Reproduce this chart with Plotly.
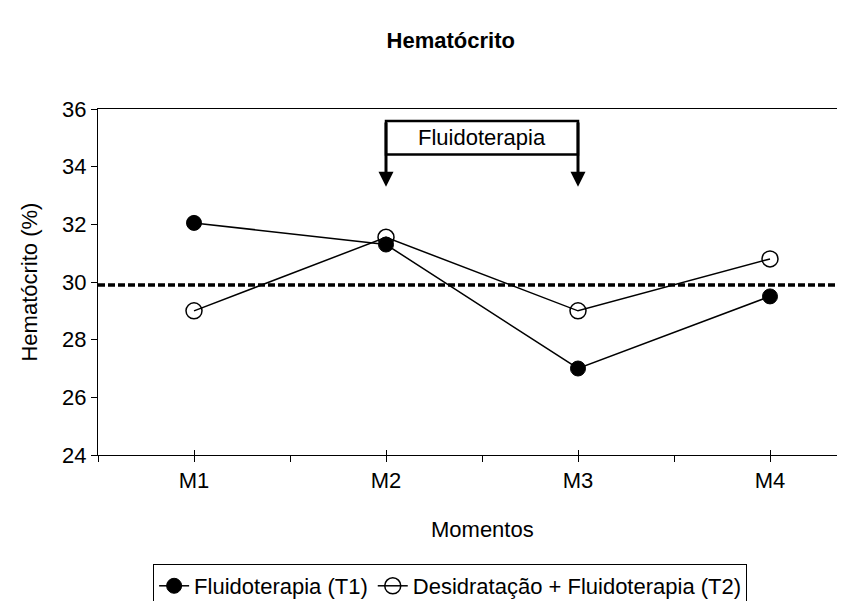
import plotly.graph_objects as go

categories = ["M1", "M2", "M3", "M4"]
t1_values = [32.05, 31.3, 27.0, 29.5]
t2_values = [29.0, 31.55, 29.0, 30.8]
reference_level = 29.9
y_ticks = [24, 26, 28, 30, 32, 34, 36]
series_names = ["Fluidoterapia (T1)", "Desidratação + Fluidoterapia (T2)"]

x_pos = list(range(1, len(categories) + 1))
FONT = "Liberation Sans, Arial, sans-serif"
FS = 22

fig = go.Figure()

# reference dotted line
fig.add_shape(type="line", xref="paper", x0=0, x1=1, yref="y",
              y0=reference_level, y1=reference_level,
              line=dict(color="black", width=3.5, dash="7px,3px"), layer="below")

fig.add_trace(go.Scatter(
    x=x_pos, y=t1_values, name=series_names[0], mode="lines+markers",
    line=dict(color="black", width=1.5),
    marker=dict(symbol="circle", size=15, color="black", line=dict(color="black", width=1)),
))
fig.add_trace(go.Scatter(
    x=x_pos, y=t2_values, name=series_names[1], mode="lines+markers",
    line=dict(color="black", width=1.5),
    marker=dict(symbol="circle-open", size=16, color="black", line=dict(color="black", width=1.5)),
))

# Fluidoterapia bracket
box_top, box_bottom, arrow_tip = 35.58, 34.42, 33.3
fig.add_shape(type="rect", xref="x", yref="y", x0=2, x1=3, y0=box_bottom, y1=box_top,
              line=dict(color="black", width=2.5), fillcolor="white")
fig.add_annotation(x=2.5, y=(box_top + box_bottom) / 2, xref="x", yref="y",
                   text="Fluidoterapia", showarrow=False,
                   font=dict(family=FONT, size=FS, color="black"))
for xv in (2, 3):
    fig.add_annotation(x=xv, y=arrow_tip, ax=xv, ay=box_top, xref="x", yref="y",
                       axref="x", ayref="y", text="", showarrow=True,
                       arrowhead=2, arrowsize=1.0, arrowwidth=3, arrowcolor="black",
                       standoff=0, startstandoff=0)

# axis titles
fig.add_annotation(x=2.5, y=-0.215, xref="x", yref="paper", text="Momentos",
                   showarrow=False, yanchor="middle",
                   font=dict(family=FONT, size=FS, color="black"))
fig.add_annotation(x=-0.092, y=0.5, xref="paper", yref="paper", text="Hematócrito (%)",
                   showarrow=False, textangle=-90, xanchor="center", yanchor="middle",
                   font=dict(family=FONT, size=FS, color="black"))

x_right = 0.5 + (845 - 90) / 192.0

fig.update_layout(
    width=845, height=601,
    margin=dict(l=90, r=0, t=101, b=154, autoexpand=False),
    paper_bgcolor="white", plot_bgcolor="white",
    font=dict(family=FONT, size=FS, color="black"),
    title=dict(text="<b>Hematócrito</b>", x=0.524, xanchor="center", y=0.947, yanchor="middle",
               font=dict(family=FONT, size=22, color="black")),
    showlegend=True,
    legend=dict(orientation="h", x=0.073, xanchor="left", y=-0.315, yanchor="top",
                bordercolor="black", borderwidth=1, bgcolor="white",
                font=dict(family=FONT, size=22, color="black"),
                itemwidth=30, tracegroupgap=0),
    xaxis=dict(
        range=[0.5, x_right], tickmode="array",
        tickvals=[0.5, 1, 1.5, 2, 2.5, 3, 3.5, 4, 4.5],
        ticktext=["", categories[0], "", categories[1], "", categories[2], "", categories[3], ""],
        ticks="outside", ticklen=6, tickwidth=1, tickcolor="black",
        minor=dict(tickmode="array", tickvals=x_pos, ticks="inside", ticklen=5, tickcolor="black", tickwidth=1),
        showline=True, linecolor="black", linewidth=1, mirror=True,
        showgrid=False, zeroline=False, automargin=False,
        tickfont=dict(family=FONT, size=FS, color="black"),
    ),
    yaxis=dict(
        range=[24, 36], tickvals=y_ticks, ticks="outside", ticklen=6, tickcolor="black",
        showline=True, linecolor="black", linewidth=1,
        showgrid=False, zeroline=False, automargin=False,
        tickfont=dict(family=FONT, size=FS, color="black"),
    ),
)

fig.write_html("out.html")
